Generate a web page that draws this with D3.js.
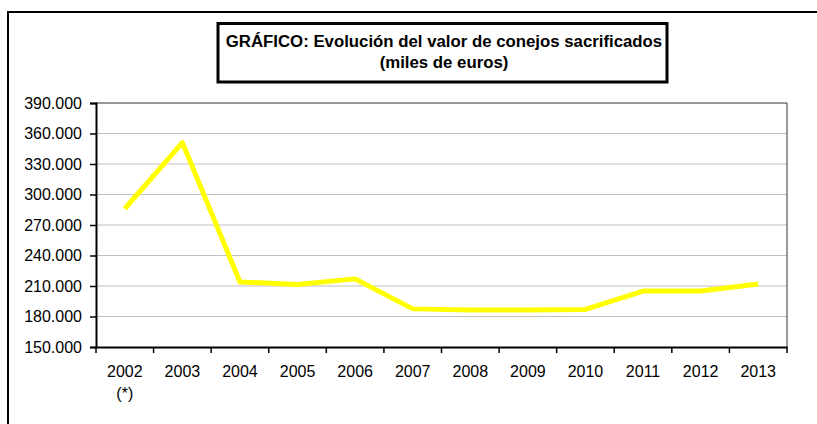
<!DOCTYPE html>
<html>
<head>
<meta charset="utf-8">
<script src="https://cdn.jsdelivr.net/npm/d3@7"></script>
<style>
  body { margin: 0; background: #fff; }
  svg { display: block; font-family: Arial, "Liberation Sans", sans-serif; }
</style>
</head>
<body>
<svg id="chart" width="817" height="424"></svg>
<script>
const years = ['2002', '2003', '2004', '2005', '2006', '2007', '2008', '2009', '2010', '2011', '2012', '2013'];
const yearNotes = ['(*)', '', '', '', '', '', '', '', '', '', '', ''];
const valores = [286000, 351000, 214000, 211500, 217000, 187500, 186500, 186500, 187000, 205000, 205000, 212000];
const yTicks = [150000, 180000, 210000, 240000, 270000, 300000, 330000, 360000, 390000];
const titleLines = ['GRÁFICO: Evolución del valor de conejos sacrificados', '(miles de euros)'];

const svg = d3.select('#chart');
const plot = {left: 96, top: 103, right: 787, bottom: 347};

// outer frame (runs off the right and bottom edge)
svg.append('path')
    .attr('d', 'M8,430 L8,12 L830,12')
    .attr('fill', 'none')
    .attr('stroke', '#000')
    .attr('stroke-width', 2);

// title box
svg.append('rect')
    .attr('x', 218).attr('y', 23.5)
    .attr('width', 449).attr('height', 58.5)
    .attr('fill', '#fff')
    .attr('stroke', '#000')
    .attr('stroke-width', 3);

svg.selectAll('.title')
    .data(titleLines)
    .enter()
    .append('text')
    .attr('x', 444)
    .attr('y', (d, i) => 46.5 + i * 21.5)
    .attr('text-anchor', 'middle')
    .attr('fill', '#000')
    .style('font-size', '16.8px')
    .style('font-weight', 'bold')
    .text(d => d);

const x = d3.scaleBand()
    .domain(years)
    .range([plot.left, plot.right]);
const y = d3.scaleLinear()
    .domain([150000, 390000])
    .range([plot.bottom, plot.top]);

// gridlines
svg.append('g')
    .selectAll('line')
    .data(yTicks.slice(1, -1))
    .enter()
    .append('line')
    .attr('x1', plot.left).attr('x2', plot.right)
    .attr('y1', d => y(d)).attr('y2', d => y(d))
    .attr('stroke', '#c0c0c0')
    .attr('stroke-width', 1);

// top and right border of plot area
svg.append('path')
    .attr('d', `M${plot.left},${plot.top} L${plot.right},${plot.top} L${plot.right},${plot.bottom}`)
    .attr('fill', 'none')
    .attr('stroke', '#333')
    .attr('stroke-width', 1);

const fmt = v => d3.format(',')(v).replace(/,/g, '.');

// y axis
const yAxis = svg.append('g')
    .attr('transform', `translate(${plot.left},0)`)
    .call(d3.axisLeft(y).tickValues(yTicks).tickFormat(fmt).tickSize(6).tickPadding(8));
yAxis.select('.domain').attr('stroke', '#000').attr('stroke-width', 2);
yAxis.selectAll('.tick line').attr('stroke', '#000').attr('stroke-width', 1.5);
yAxis.selectAll('.tick text')
    .attr('fill', '#000')
    .style('font-size', '16px')
    .style('font-family', 'Arial, "Liberation Sans", sans-serif');

// x axis
const xAxis = svg.append('g')
    .attr('transform', `translate(0,${plot.bottom})`)
    .call(d3.axisBottom(x).tickSize(0).tickPadding(0).tickFormat(''));
xAxis.select('.domain').attr('stroke', '#000').attr('stroke-width', 2);

const edges = years.map(d => x(d)).concat([plot.right]);
xAxis.selectAll('.edge')
    .data(edges)
    .enter()
    .append('line')
    .attr('x1', d => d).attr('x2', d => d)
    .attr('y1', 0).attr('y2', 6)
    .attr('stroke', '#000')
    .attr('stroke-width', 1.5);

xAxis.selectAll('.yr')
    .data(years)
    .enter()
    .append('text')
    .attr('x', d => x(d) + x.bandwidth() / 2)
    .attr('y', 30)
    .attr('text-anchor', 'middle')
    .attr('fill', '#000')
    .style('font-size', '16px')
    .text(d => d);

xAxis.selectAll('.note')
    .data(yearNotes)
    .enter()
    .append('text')
    .attr('x', (d, i) => x(years[i]) + x.bandwidth() / 2)
    .attr('y', 52)
    .attr('text-anchor', 'middle')
    .attr('fill', '#000')
    .style('font-size', '16px')
    .text(d => d);

// line
const line = d3.line()
    .x((d, i) => x(years[i]) + x.bandwidth() / 2)
    .y(d => y(d));

svg.append('path')
    .datum(valores)
    .attr('d', line)
    .attr('fill', 'none')
    .attr('stroke', '#ffff00')
    .attr('stroke-width', 5)
    .attr('stroke-linejoin', 'round');
</script>
</body>
</html>
